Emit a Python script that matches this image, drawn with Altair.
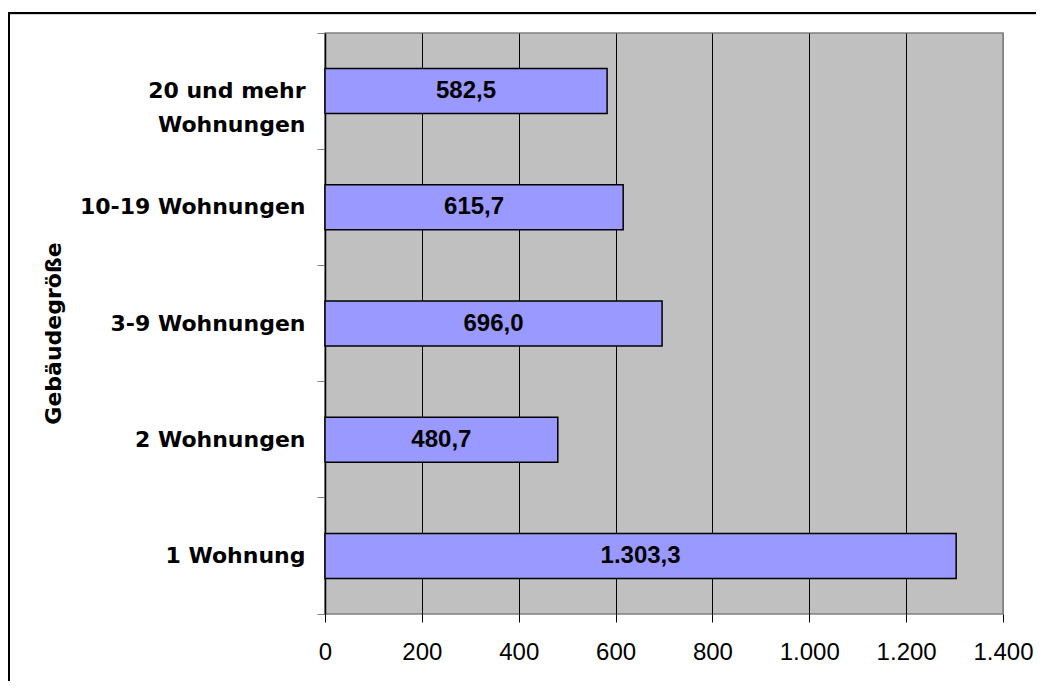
import altair as alt
import pandas as pd

categories = ["20 und mehr Wohnungen", "10-19 Wohnungen", "3-9 Wohnungen", "2 Wohnungen", "1 Wohnung"]
values = [582.5, 615.7, 696.0, 480.7, 1303.3]
x_ticks = [0, 200, 400, 600, 800, 1000, 1200, 1400]

df = pd.DataFrame({"kat": categories, "wert": values})

W, H = 678, 581

y_enc = alt.Y(
    "kat:N",
    sort=categories,
    scale=alt.Scale(paddingInner=0, paddingOuter=0),
    axis=alt.Axis(
        title="Gebäudegröße",
        titleFont="DejaVu Sans",
        titleFontSize=22,
        titleFontWeight="bold",
        titleColor="black",
        titleX=-272,
        titleY=300,
        titleAngle=270,
        titleAlign="center",
        titleBaseline="middle",
        labelFont="DejaVu Sans",
        labelFontSize=22,
        labelFontWeight="bold",
        labelColor="black",
        labelPadding=12,
        labelLineHeight=34,
        labelLimit=400,
        labelExpr="datum.value == '20 und mehr Wohnungen' ? ['20 und mehr', 'Wohnungen'] : datum.value",
        bandPosition=1,
        tickExtra=True,
        tickSize=8,
        tickColor="#808080",
        domainColor="black",
        domainWidth=1.5,
        grid=False,
    ),
)

x_enc = alt.X(
    "wert:Q",
    scale=alt.Scale(domain=[0, 1400], nice=False, zero=True),
    axis=alt.Axis(
        title=None,
        values=x_ticks,
        labelFont="Liberation Sans",
        labelFontSize=24,
        labelColor="black",
        labelPadding=18,
        labelFlush=False,
        labelOverlap=False,
        labelExpr="replace(format(datum.value, ','), ',', '.')",
        tickSize=8,
        tickColor="black",
        domain=False,
        grid=True,
        gridColor=alt.condition("datum.value >= 1400", alt.value("#808080"), alt.value("black")),
        gridWidth=1,
    ),
)

bars = alt.Chart(df).mark_bar(
    size=45, color="#9999FF", stroke="black", strokeWidth=1.5
).encode(x=x_enc, y=y_enc)

text = alt.Chart(df).transform_calculate(
    half="datum.wert / 2",
    lab="replace(replace(replace(format(datum.wert, ',.1f'), regexp(',', 'g'), '_'), '.', ','), '_', '.')",
).mark_text(
    font="Liberation Sans", fontSize=24, fontWeight="bold", color="black", baseline="middle", align="center"
).encode(
    x=alt.X("half:Q"),
    y=alt.Y("kat:N", sort=categories),
    text="lab:N",
)

frame_df = pd.DataFrame({"f": [0]})
frame_left = alt.Chart(frame_df).mark_rule(color="black", strokeWidth=2).encode(
    x=alt.value(-316), y=alt.value(-20), y2=alt.value(H + 200)
)
frame_top = alt.Chart(frame_df).mark_rule(color="black", strokeWidth=2).encode(
    x=alt.value(-317), x2=alt.value(W + 300), y=alt.value(-20)
)
frame_shadow = alt.Chart(frame_df).mark_rule(color="#D0D0D0", strokeWidth=1).encode(
    x=alt.value(-315), x2=alt.value(W + 300), y=alt.value(-18.5)
)

chart = alt.layer(bars, text, frame_shadow, frame_left, frame_top).properties(
    width=W,
    height=H,
    padding={"left": 317, "top": 25, "right": 33, "bottom": 67},
    autosize=alt.AutoSizeParams(type="none"),
    background="white",
).configure_view(
    fill="#C0C0C0", stroke="#808080", strokeWidth=1.5
)

chart.save("out.html", embed_options={"renderer": "svg", "actions": False})
